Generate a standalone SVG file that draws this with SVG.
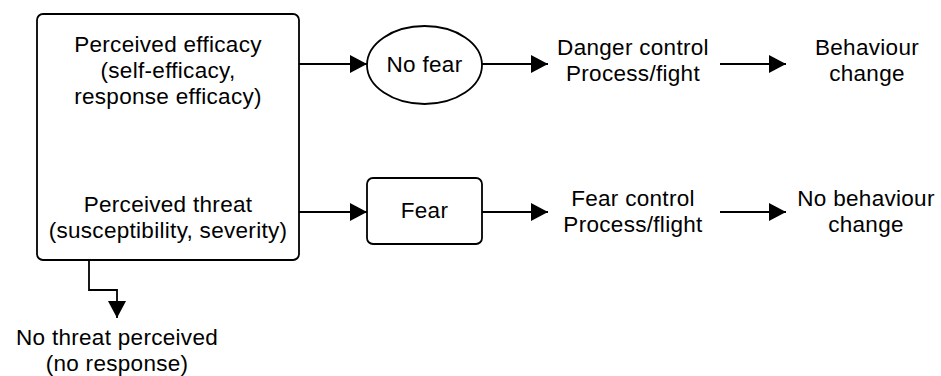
<svg xmlns="http://www.w3.org/2000/svg" width="941" height="376" viewBox="0 0 941 376">
<style>
text{font-family:"Liberation Sans",Arial,sans-serif;font-size:22.5px;fill:#000;text-anchor:middle;letter-spacing:0.3px}
.shape{fill:#fff;stroke:#000;stroke-width:1.8}
.line{fill:none;stroke:#000;stroke-width:1.8}
</style>
<defs>
<marker id="ah" viewBox="0 0 17 18" refX="17" refY="9" markerWidth="17" markerHeight="18" markerUnits="userSpaceOnUse" orient="auto">
<path d="M0,0 L17,9 L0,18 Z" fill="#000"/>
</marker>
</defs>
<g id="connectors">
<line class="line" x1="299" y1="64" x2="367" y2="64" marker-end="url(#ah)"/>
<line class="line" x1="482" y1="64" x2="548" y2="64" marker-end="url(#ah)"/>
<line class="line" x1="720" y1="64" x2="786" y2="64" marker-end="url(#ah)"/>
<line class="line" x1="299" y1="212" x2="367" y2="212" marker-end="url(#ah)"/>
<line class="line" x1="482" y1="212" x2="548" y2="212" marker-end="url(#ah)"/>
<line class="line" x1="720" y1="212" x2="786" y2="212" marker-end="url(#ah)"/>
<polyline class="line" points="89,260 89,290 117,290 117,318" marker-end="url(#ah)"/>
</g>
<g id="perceived">
<rect class="shape" x="37" y="14" width="262" height="246" rx="6"/>
<text x="168" y="52">Perceived efficacy</text>
<text x="168" y="78">(self-efficacy,</text>
<text x="168" y="104">response efficacy)</text>
<text x="168" y="212">Perceived threat</text>
<text x="168" y="238">(susceptibility, severity)</text>
</g>
<g id="nofear">
<ellipse class="shape" cx="424.5" cy="65" rx="57.5" ry="39"/>
<text x="424.5" y="72">No fear</text>
</g>
<g id="fear">
<rect class="shape" x="367" y="178" width="115" height="66" rx="6"/>
<text x="424.5" y="218">Fear</text>
</g>
<g id="danger">
<text x="633" y="55">Danger control</text>
<text x="633" y="81">Process/fight</text>
</g>
<g id="behaviour">
<text x="867" y="55">Behaviour</text>
<text x="867" y="81">change</text>
</g>
<g id="fearcontrol">
<text x="633" y="206">Fear control</text>
<text x="633" y="232">Process/flight</text>
</g>
<g id="nobehaviour">
<text x="866" y="206">No behaviour</text>
<text x="866" y="232">change</text>
</g>
<g id="nothreat">
<text x="117" y="345">No threat perceived</text>
<text x="117" y="371">(no response)</text>
</g>
</svg>
